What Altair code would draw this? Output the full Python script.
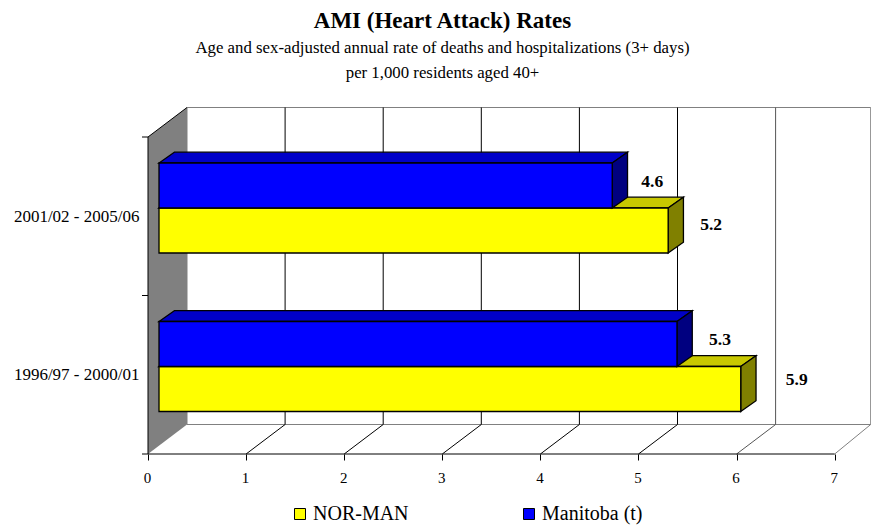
import altair as alt

periods = ["1996/97 - 2000/01", "2001/02 - 2005/06"]
nor_man = [5.93, 5.19]
manitoba = [5.28, 4.62]
label_gap_nor = [56, 43]
label_gap_man = [43, 40]
label_lift_nor = [9, 6]
label_lift_man = [4.5, 3.5]
ticks_x = list(range(8))

FONT = "Liberation Serif"
UX, UY = 98.1, 158.5
WALL_DX, WALL_DY = 39 / UX, 29.5 / UY
RIGHT_DX = 36.0 / UX
BAR_DX, BAR_DY = 15.3 / UX, 10.8 / UY
BASE = 11 / UX
BAR_H = 45.0 / UY
BAR_Y0 = 42.5 / UY
W, H = 723, 346
EDGE = 1.3

xs = alt.Scale(domain=[0, W / UX], nice=False, zero=False)
ys = alt.Scale(domain=[0, H / UY], nice=False, zero=False)
axis_x = alt.Axis(values=ticks_x, domain=False, grid=False, tickColor="black", tickSize=6,
                  labelFont=FONT, labelFontSize=15, labelColor="black", labelPadding=10,
                  labelAngle=0, labelFlush=False, labelOffset=-1, format="d", title=None)
axis_y = alt.Axis(values=[0.5, 1.5], domain=False, grid=False, ticks=False,
                  labelExpr=f"datum.value < 1 ? '{periods[0]}' : '{periods[1]}'",
                  labelFont=FONT, labelFontSize=17, labelColor="black", labelPadding=9, title=None)


def X(f="x", **k):
    return alt.X(f"{f}:Q", scale=xs, title=None, axis=axis_x, **k)


def Y(f="y", **k):
    return alt.Y(f"{f}:Q", scale=ys, title=None, axis=axis_y, **k)


def X2(f="x2"):
    return alt.X2(f"{f}:Q")


def Y2(f="y2"):
    return alt.Y2(f"{f}:Q")


def D(rows):
    return alt.Data(values=rows)


def rule(rows, color="black", width=1):
    return alt.Chart(D(rows)).mark_rule(color=color, strokeWidth=width).encode(
        x=X(), x2=X2(), y=Y(), y2=Y2())


back = alt.Chart(D([{"x": WALL_DX, "x2": 7 + RIGHT_DX, "y": WALL_DY, "y2": 2 + WALL_DY}])).mark_rect(
    fill="white", stroke="#808080", strokeWidth=1
).encode(x=X(), x2=X2(), y=Y(), y2=Y2())

wall = alt.Chart(D([
    {"x": 0, "y": 0, "y2": 2},
    {"x": WALL_DX, "y": WALL_DY, "y2": 2 + WALL_DY},
])).mark_area(fill="#808080", opacity=1).encode(x=X(), y=Y(stack=None), y2=Y2())

layers = [back, wall]

for i in ticks_x[1:7]:
    c = "black" if i < 6 else "#555555"
    layers.append(rule([{"x": i + WALL_DX, "x2": i + WALL_DX, "y": WALL_DY, "y2": 2 + WALL_DY}], c))
    layers.append(rule([{"x": i, "x2": i + WALL_DX, "y": 0, "y2": WALL_DY}], c))

layers.append(rule([{"x": 7, "x2": 7 + RIGHT_DX, "y": 0, "y2": WALL_DY}], "#808080"))
layers.append(rule([{"x": 0, "x2": WALL_DX, "y": 2, "y2": 2 + WALL_DY}], "black"))
layers.append(rule([{"x": 0, "x2": 0, "y": 0, "y2": 2}], "black"))
layers.append(rule([{"x": -6 / UX, "x2": 7, "y": 0, "y2": 0}], "black"))
for t in (1, 2):
    layers.append(rule([{"x": -6 / UX, "x2": 0, "y": t, "y2": t}], "black"))

series = [
    ("NOR-MAN", nor_man, 0, "#C8C800", "#808000"),
    ("Manitoba (t)", manitoba, 1, "#0000C8", "#000080"),
]
color = alt.Color("series:N",
                  scale=alt.Scale(domain=["NOR-MAN", "Manitoba (t)"], range=["#FFFF00", "#0000FF"]),
                  legend=alt.Legend(title=None, orient="none", legendX=142, legendY=395,
                                    direction="horizontal", columns=2, symbolType="square",
                                    symbolSize=121, symbolStrokeColor="black", symbolStrokeWidth=1,
                                    labelFont=FONT, labelFontSize=20, labelColor="black",
                                    labelOffset=3, columnPadding=110, clipHeight=22))

for name, vals, slot, top_c, side_c in series:
    top, side, front = [], [], []
    for g, v in enumerate(vals):
        x0, x1 = BASE, BASE + v
        yb = g + BAR_Y0 + slot * BAR_H
        yt = yb + BAR_H
        top += [{"id": g, "x": x0, "x2": x1, "y": yt},
                {"id": g, "x": x0 + BAR_DX, "x2": x1 + BAR_DX, "y": yt + BAR_DY}]
        side += [{"id": g, "x": x1, "y": yb, "y2": yt},
                 {"id": g, "x": x1 + BAR_DX, "y": yb + BAR_DY, "y2": yt + BAR_DY}]
        front.append({"series": name, "x": x0, "x2": x1, "y": yb, "y2": yt})
    layers.append(alt.Chart(D(top)).mark_area(orient="horizontal", fill=top_c, stroke="black", strokeWidth=EDGE, opacity=1)
                  .encode(x=X(stack=None), x2=X2(), y=Y(), detail="id:N"))
    layers.append(alt.Chart(D(side)).mark_area(fill=side_c, stroke="black", strokeWidth=EDGE, opacity=1)
                  .encode(x=X(), y=Y(stack=None), y2=Y2(), detail="id:N"))
    layers.append(alt.Chart(D(front)).mark_rect(stroke="black", strokeWidth=EDGE, opacity=1)
                  .encode(x=X(), x2=X2(), y=Y(), y2=Y2(), color=color))

labels = []
for g in range(2):
    labels.append({"t": "5.9" if g == 0 else "5.2",
                   "x": BASE + nor_man[g] + label_gap_nor[g] / UX,
                   "y": g + BAR_Y0 + BAR_H / 2 + label_lift_nor[g] / UY})
    labels.append({"t": f"{manitoba[g]:.1f}",
                   "x": BASE + manitoba[g] + label_gap_man[g] / UX,
                   "y": g + BAR_Y0 + BAR_H * 1.5 + label_lift_man[g] / UY})
layers.append(alt.Chart(D(labels)).mark_text(font=FONT, fontSize=17.5, fontWeight="bold", color="black", baseline="middle")
              .encode(x=X(), y=Y(), text="t:N"))

chart = alt.layer(*layers).properties(
    width=W, height=H,
    padding={"left": 140, "top": 100, "right": 0, "bottom": 71},
    autosize=alt.AutoSizeParams(type="none"),
    title=alt.TitleParams(
        text="AMI (Heart Attack) Rates",
        subtitle=["Age and sex-adjusted annual rate of deaths and hospitalizations (3+ days)",
                  "per 1,000 residents aged 40+"],
        font=FONT, fontSize=23, fontWeight="bold", color="black",
        subtitleFont=FONT, subtitleFontSize=16.8, subtitleColor="black",
        subtitleLineHeight=25, subtitlePadding=7,
        anchor="middle", dx=-67, offset=25,
    ),
).configure_view(stroke=None)

chart.save("out.html", embed_options={"renderer": "svg", "actions": False})
